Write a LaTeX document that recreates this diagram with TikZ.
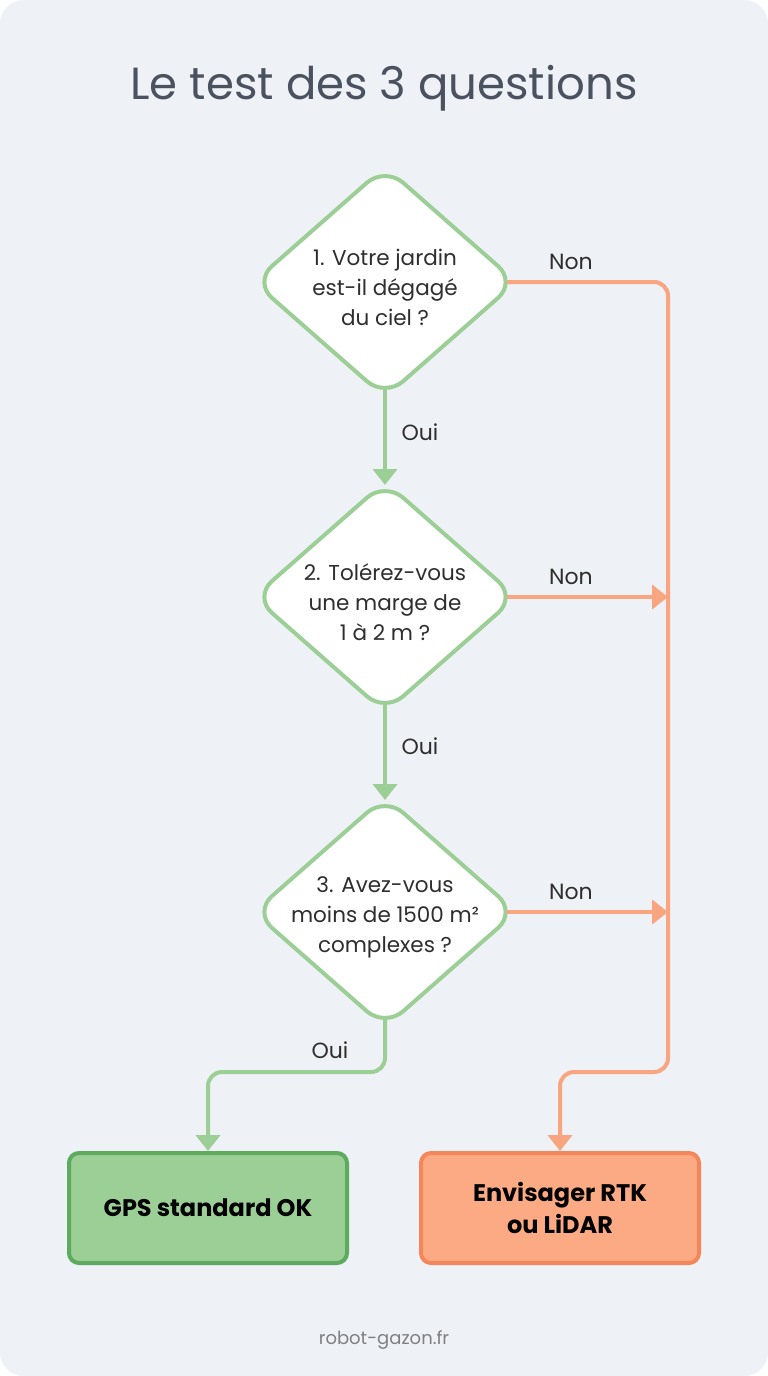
\documentclass[tikz,border=0pt]{standalone}
\usepackage{fontspec}
\setmainfont{Poppins}
\usetikzlibrary{shapes.geometric,arrows.meta,calc}
\definecolor{bg}{HTML}{EEF1F6}
\definecolor{titlec}{HTML}{4A5260}
\definecolor{grn}{HTML}{9CCF96}
\definecolor{grnd}{HTML}{5EAA5E}
\definecolor{org}{HTML}{F8A580}
\definecolor{orgl}{HTML}{FCAA84}
\definecolor{orgd}{HTML}{F4865A}
\definecolor{txt}{HTML}{2E2E2E}
\begin{document}
\begin{tikzpicture}[x=1pt,y=-1pt,
  dia/.style={diamond,draw=grn,line width=4pt,fill=white,rounded corners=24pt,minimum width=264pt,minimum height=232pt,inner sep=0pt},
  dtext/.style={text=txt,font=\fontsize{21.5}{30}\selectfont,align=center},
  lab/.style={text=txt,font=\fontsize{22}{26}\selectfont},
  yes/.style={draw=grn,line width=4pt,rounded corners=14pt,-{Triangle[length=16pt,width=24pt]}},
  no/.style={draw=org,line width=4pt,rounded corners=14pt,-{Triangle[length=16pt,width=24pt]}},
  box/.style={rounded corners=10pt,line width=4pt,minimum width=278pt,minimum height=110pt,text=black,font=\bfseries\fontsize{24}{32}\selectfont,align=center}]
\useasboundingbox (0,0) rectangle (768,1376);
\fill[white] (0,0) rectangle (768,1376);
\fill[bg,rounded corners=24pt] (0,0) rectangle (768,1376);
\node[text=titlec,font=\fontsize{45}{54}\selectfont] (title) at (384,88) {Le test des 3 questions};
\node[dia] (d1) at (385,282) {};
\node[dtext] (t1) at (385,287) {1. Votre jardin\\est-il dégagé\\du ciel ?};
\node[dia] (d2) at (385,597) {};
\node[dtext] (t2) at (385,602) {2. Tolérez-vous\\une marge de\\1 à 2 m ?};
\node[dia] (d3) at (385,912) {};
\node[dtext] (t3) at (385,917) {3. Avez-vous\\moins de 1500 m²\\complexes ?};
\node[box,draw=grnd,fill=grn] (b1) at (208,1208) {GPS standard OK};
\node[box,draw=orgd,fill=orgl] (b2) at (560,1208) {Envisager RTK\\ou LiDAR};
\coordinate (c1) at (668,597);
\coordinate (c2) at (668,912);
\draw[yes] ([yshift=12pt]d1.south) -- ([yshift=-6pt]d2.north);
\draw[yes] ([yshift=12pt]d2.south) -- ([yshift=-6pt]d3.north);
\draw[yes] ([yshift=12pt]d3.south) |- (208,1072) -- (b1.north);
\draw[no] ([xshift=-12pt]d1.east) -| (668,1072) -| (b2.north);
\draw[no] ([xshift=-12pt]d2.east) -- (c1);
\draw[no] ([xshift=-12pt]d3.east) -- (c2);
\node[lab] (o1) at (420,432) {Oui};
\node[lab] (o2) at (420,746) {Oui};
\node[lab] (o3) at (330,1050) {Oui};
\node[lab] (n1) at (571,262) {Non};
\node[lab] (n2) at (571,577) {Non};
\node[lab] (n3) at (571,892) {Non};
\node[text=gray,font=\fontsize{18}{22}\selectfont] (foot) at (384,1340) {robot-gazon.fr};
\end{tikzpicture}
\end{document}
